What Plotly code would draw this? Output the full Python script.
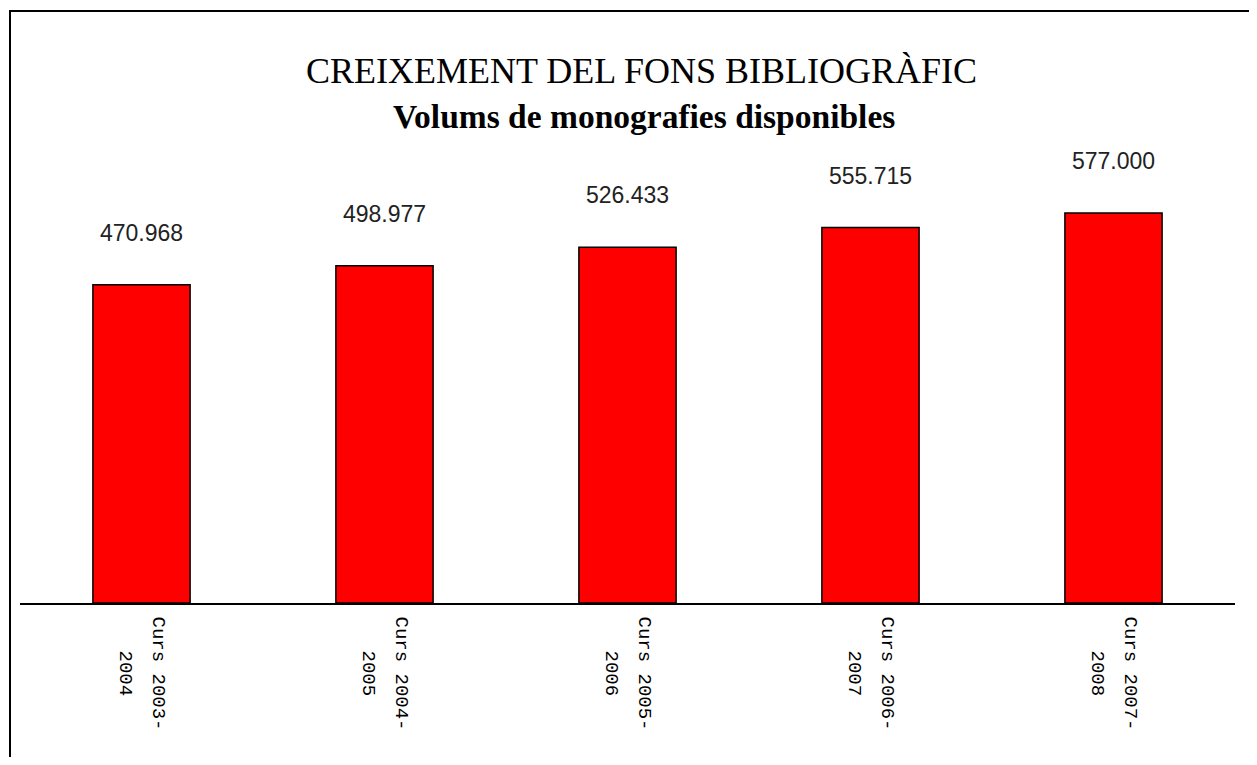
import plotly.graph_objects as go

# Data
categories = ["Curs 2003-2004", "Curs 2004-2005", "Curs 2005-2006", "Curs 2006-2007", "Curs 2007-2008"]
volumes = [470968, 498977, 526433, 555715, 577000]
value_labels = ["470.968", "498.977", "526.433", "555.715", "577.000"]
title_line1 = "CREIXEMENT DEL FONS BIBLIOGRÀFIC"
title_line2 = "Volums de monografies disponibles"

OFF = 8  # page body margin
W, H = 1257 - 2 * OFF, 765 - 2 * OFF
# plot area in page pixels: x 20..1235, y 130..603
ML = 20 - OFF
MR = W - (1235 - OFF)
MT = 130 - OFF
MB = H - (603 - OFF)
PH = H - MT - MB
PW = W - ML - MR


def py(pix):
    return ((603 - OFF) - (pix - OFF)) / PH


def px(pix):
    return ((pix - OFF) - ML) / PW


fig = go.Figure()
fig.add_trace(go.Bar(
    x=categories, y=volumes, width=0.4,
    marker=dict(color="#FF0000", line=dict(color="#000000", width=1.5)),
    hoverinfo="x+y",
))

annotations = []
for c, v, lab in zip(categories, volumes, value_labels):
    annotations.append(dict(x=c, y=v, xref="x", yref="y", text=lab, showarrow=False,
                            yanchor="middle", xanchor="center", yshift=52,
                            font=dict(family="Liberation Sans", size=23, color="#222222")))
    l1, l2 = c.split("-", 1)
    annotations.append(dict(x=c, y=py(673), xref="x", yref="paper", text=l1 + "-",
                            showarrow=False, textangle=90, xanchor="center", yanchor="middle",
                            xshift=16, font=dict(family="Liberation Mono", size=19, color="#000000")))
    annotations.append(dict(x=c, y=py(673), xref="x", yref="paper", text=l2,
                            showarrow=False, textangle=90, xanchor="center", yanchor="middle",
                            xshift=-17, font=dict(family="Liberation Mono", size=19, color="#000000")))

annotations.append(dict(x=px(641), y=py(71), xref="paper", yref="paper", text=title_line1,
                        showarrow=False, xanchor="center", yanchor="middle",
                        font=dict(family="Liberation Serif", size=36, color="#000000")))
annotations.append(dict(x=px(644), y=py(117), xref="paper", yref="paper", text="<b>" + title_line2 + "</b>",
                        showarrow=False, xanchor="center", yanchor="middle",
                        font=dict(family="Liberation Serif", size=33.5, color="#000000")))

fig.update_layout(
    width=W, height=H,
    margin=dict(l=ML, r=MR, t=MT, b=MB, pad=0),
    paper_bgcolor="white", plot_bgcolor="white",
    showlegend=False,
    bargap=0.6,
    annotations=annotations,
    xaxis=dict(range=[-0.5, 4.5], showticklabels=False, ticks="", showgrid=False,
               zeroline=False, showline=True, linecolor="#000000", linewidth=1.5,
               fixedrange=True),
    yaxis=dict(range=[0, 700000], visible=False, showgrid=False, zeroline=False,
               fixedrange=True),
    shapes=[dict(type="rect", xref="paper", yref="paper",
                 x0=px(10), x1=px(1400), y0=py(900), y1=py(11),
                 line=dict(color="#000000", width=2), fillcolor="rgba(0,0,0,0)",
                 layer="above")],
)

fig.write_html("out.html", config={"displayModeBar": False})
